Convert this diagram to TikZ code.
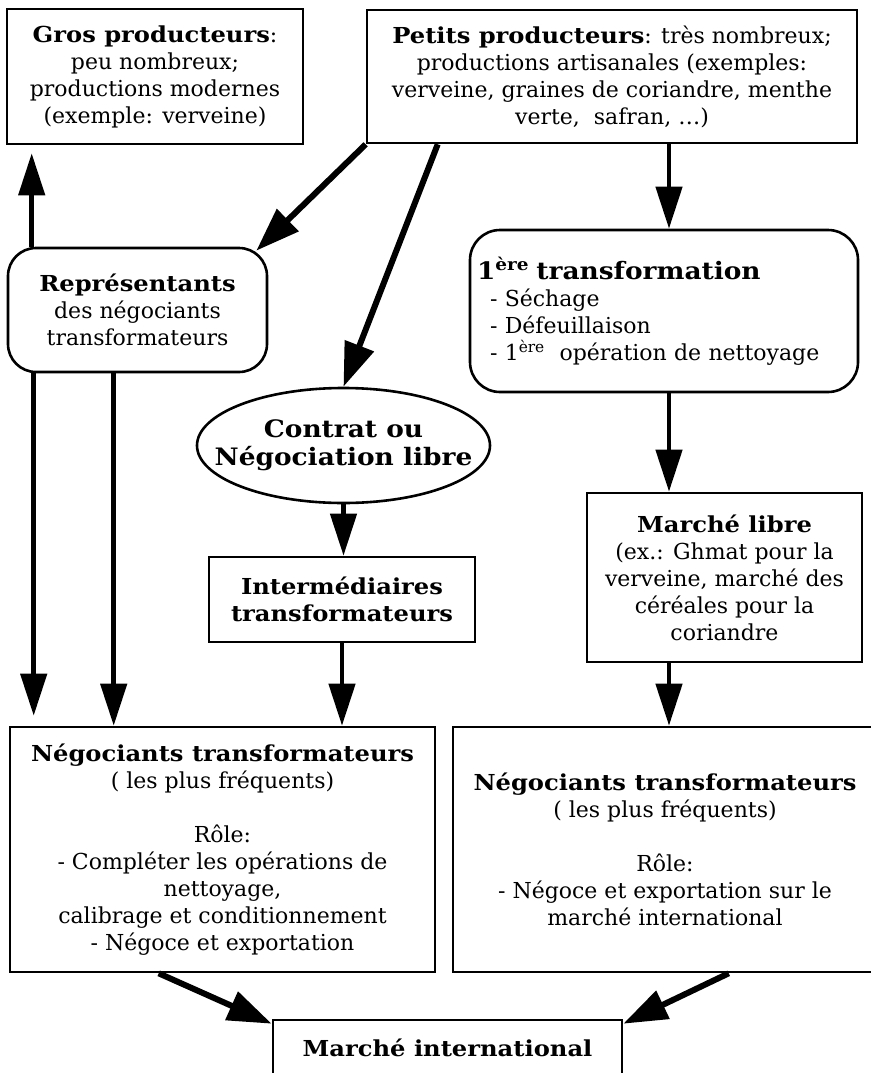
\documentclass[tikz,border=0pt]{standalone}
\usepackage{fontspec}
\setmainfont{DejaVu Serif}[BoldFeatures={FakeStretch=1.1}]
\usetikzlibrary{arrows.meta,shapes.geometric}
\begin{document}
\begin{tikzpicture}[x=1pt,y=-1pt,
  every node/.style={font=\fontsize{22}{27}\selectfont, inner sep=0pt, align=center},
  bx/.style={draw, line width=2.6pt},
  rbx/.style={draw, line width=2.6pt, rounded corners=28pt},
  ell/.style={draw, ellipse, line width=2.6pt},
  va/.style={line width=4.5pt, -{Triangle[length=42pt,width=26pt]}},
  da/.style={line width=6pt, -{Triangle[length=44pt,width=30pt]}}]
\useasboundingbox (0,0) rectangle (870,1073);
\coordinate (colx) at (669,0);
\node[bx, minimum width=296pt, minimum height=135pt] (gros) at (155,76.5)
  {\textbf{Gros producteurs}:\\peu nombreux;\\productions modernes\\(exemple: verveine)};
\node[bx, minimum width=490pt, minimum height=133pt] (petits) at (612,76.5)
  {\textbf{Petits producteurs}: très nombreux;\\productions artisanales (exemples:\\verveine, graines de coriandre, menthe\\verte,~ safran, \ldots)};
\node[rbx, minimum width=259pt, minimum height=124pt] (rep) at (137.5,310)
  {\textbf{Représentants}\\des négociants\\transformateurs};
\node[rbx, rounded corners=30pt, text width=348pt, inner xsep=20pt, align=left, minimum height=162pt] (trans) at (664,311)
  {\hspace*{-13pt}{\fontsize{24}{27}\selectfont\textbf{1\textsuperscript{ère} transformation}}\\- Séchage\\- Défeuillaison\\- 1\textsuperscript{ère}~ opération de nettoyage};
\node[ell, inner xsep=-40pt, inner ysep=0pt, minimum width=293pt, minimum height=115pt, font=\fontsize{24}{28}\selectfont\bfseries] (contrat) at (343.5,445.5)
  {Contrat ou\\Négociation libre};
\node[bx, minimum width=266pt, minimum height=85pt] (inter) at (342,599.5)
  {\textbf{Intermédiaires}\\\textbf{transformateurs}};
\node[bx, minimum width=275pt, minimum height=169pt] (mlibre) at (724.5,577.5)
  {\textbf{Marché libre}\\(ex.: Ghmat pour la\\verveine, marché des\\céréales pour la\\coriandre};
\node[bx, minimum width=425pt, minimum height=245pt] (negl) at (222.5,849.5)
  {\textbf{Négociants transformateurs}\\( les plus fréquents)\\[27pt]Rôle:\\- Compléter les opérations de\\nettoyage,\\calibrage et conditionnement\\- Négoce et exportation};
\node[bx, minimum width=424pt, minimum height=245pt] (negr) at (665,849.5)
  {\textbf{Négociants transformateurs}\\( les plus fréquents)\\[27pt]Rôle:\\- Négoce et exportation sur le\\marché international};
\node[bx, minimum width=349pt, minimum height=56pt] (mi) at (447.5,1048)
  {\textbf{Marché international}};
% connectors
\draw[va] ([xshift=25pt]rep.north west) -- ([xshift=26pt,yshift=-8pt]gros.south west);
\draw[da] (petits.south west) -- ([xshift=-12pt,yshift=-4pt]rep.north east);
\draw[da] ([xshift=72pt]petits.south west) -- (contrat.north);
\draw[va] (petits.south -| colx) -- (trans.north -| colx);
\draw[va] ([xshift=27pt]rep.south west) -- ([xshift=25pt,yshift=10pt]negl.north west);
\draw[va] ([xshift=107pt]rep.south west) -- ([xshift=105pt]negl.north west);
\draw[va] (contrat.south) -- (contrat.south |- inter.north);
\draw[va] (inter.south) -- (inter.south |- negl.north);
\draw[va] (trans.south -| colx) -- (mlibre.north -| colx);
\draw[va] (mlibre.south -| colx) -- (negr.north -| colx);
\draw[da] ([xshift=150pt]negl.south west) -- ([yshift=-5pt]mi.north west);
\draw[da] ([xshift=277pt]negr.south west) -- ([yshift=-5pt]mi.north east);
\end{tikzpicture}
\end{document}
